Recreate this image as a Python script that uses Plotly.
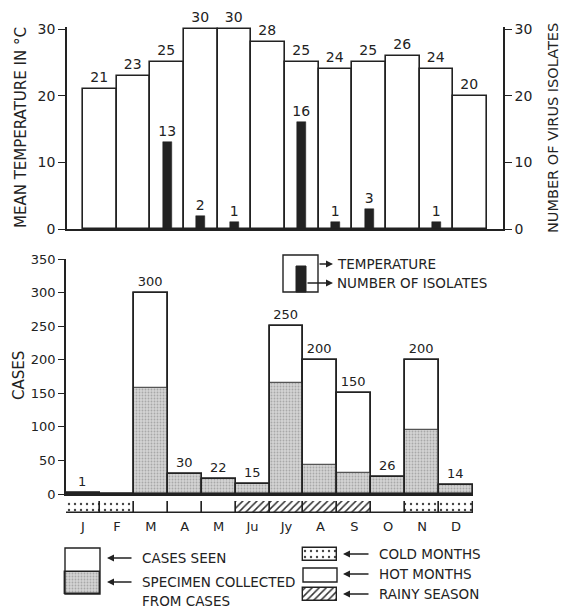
import plotly.graph_objects as go

# ---------------- data ----------------
months = ["J", "F", "M", "A", "M", "Ju", "Jy", "A", "S", "O", "N", "D"]
temperature = [21, 23, 25, 30, 30, 28, 25, 24, 25, 26, 24, 20]
isolates = [0, 0, 13, 2, 1, 0, 16, 1, 3, 0, 1, 0]
cases_seen = [1, 0, 300, 30, 22, 15, 250, 200, 150, 26, 200, 14]
specimens = [1, 0, 158, 30, 22, 15, 166, 43, 32, 26, 95, 14]
season = ["cold", "cold", "hot", "hot", "hot", "rainy", "rainy", "rainy", "rainy", "hot", "cold", "cold"]
temp_ticks = [0, 10, 20, 30]
case_ticks = [0, 50, 100, 150, 200, 250, 300, 350]

# page is offset by the browser's 8px body margin; layout is designed in page pixels
PAGE_W, PAGE_H, OFF = 568, 609, 8
FW, FH = PAGE_W - OFF, PAGE_H - OFF
INK = "#222222"
FONT = "DejaVu Sans"
GRAY_BG = "#d4d4d4"
GRAY_FG = "#a8a8a8"

idx = list(range(len(months)))

def py(p):  # page pixel y -> paper fraction
    return 1 - (p - OFF) / FH

def px(p):
    return (p - OFF) / FW

season_pattern = {"cold": ".", "hot": "", "rainy": "/"}
DOTS = dict(shape=".", fgcolor="#444444", bgcolor="white", size=6, solidity=0.12)
HATCH = dict(shape="/", fgcolor="#333333", bgcolor="white", size=5, solidity=0.3)
STIPPLE = dict(shape=".", fgcolor=GRAY_FG, bgcolor=GRAY_BG, size=3, solidity=0.3)

fig = go.Figure()

# ---------- top: temperature + isolates ----------
fig.add_trace(go.Bar(
    x=idx, y=temperature, width=1.0, xaxis="x", yaxis="y",
    marker=dict(color="white", line=dict(color=INK, width=1.6)),
    text=[str(v) for v in temperature], textposition="outside",
    textfont=dict(family=FONT, size=14, color=INK),
    constraintext="none", cliponaxis=False, showlegend=False, hoverinfo="skip"))
fig.add_trace(go.Bar(
    x=idx, y=isolates, width=0.27, xaxis="x", yaxis="y2",
    marker=dict(color=INK, line=dict(color=INK, width=0.5)),
    text=[str(v) if v else "" for v in isolates], textposition="outside",
    textfont=dict(family=FONT, size=14, color=INK),
    constraintext="none", cliponaxis=False, showlegend=False, hoverinfo="skip"))

# ---------- bottom: cases ----------
fig.add_trace(go.Bar(
    x=idx, y=cases_seen, width=1.0, xaxis="x2", yaxis="y3",
    marker=dict(color="white", line=dict(color=INK, width=1.6)),
    text=[str(v) if v else "" for v in cases_seen], textposition="outside",
    textfont=dict(family=FONT, size=13, color=INK),
    constraintext="none", cliponaxis=False, showlegend=False, hoverinfo="skip"))
fig.add_trace(go.Bar(
    x=idx, y=specimens, width=1.0, xaxis="x2", yaxis="y3",
    marker=dict(color=GRAY_BG, line=dict(color="#555555", width=1.2), pattern=STIPPLE),
    showlegend=False, hoverinfo="skip"))
fig.add_trace(go.Bar(
    x=idx, y=cases_seen, width=1.0, xaxis="x2", yaxis="y3",
    marker=dict(color="rgba(0,0,0,0)", line=dict(color=INK, width=1.6)),
    showlegend=False, hoverinfo="skip"))

# ---------- season strip ----------
fig.add_trace(go.Bar(
    x=idx, y=[1] * len(idx), width=1.0, xaxis="x3", yaxis="y4",
    marker=dict(color="white", line=dict(color=INK, width=1.4),
                pattern=dict(shape=[season_pattern[s] for s in season],
                             fgcolor=["#444444" if s == "cold" else "#333333" for s in season],
                             bgcolor="white",
                             size=[6 if s == "cold" else 5 for s in season],
                             solidity=[0.12 if s == "cold" else 0.3 for s in season])),
    showlegend=False, hoverinfo="skip"))

# ---------- legend swatches (page-pixel overlay axes) ----------
def swatch(xc, w, top, h, pattern, color="white"):
    fig.add_trace(go.Bar(
        x=[xc], y=[h], base=[top], width=[w], xaxis="x4", yaxis="y5",
        marker=dict(color=color, line=dict(color=INK, width=1.4), pattern=pattern),
        showlegend=False, hoverinfo="skip"))

swatch(320, 34, 548, 13, DOTS)
swatch(320, 34, 588, 13, HATCH)
swatch(82.5, 35, 572, 22, STIPPLE, GRAY_BG)

shapes = [
    dict(type="rect", xref="x4", yref="y5", x0=303, x1=337, y0=568, y1=582,
         line=dict(color=INK, width=1.4), fillcolor="white"),
    dict(type="rect", xref="x4", yref="y5", x0=65, x1=100, y0=548, y1=594,
         line=dict(color=INK, width=1.4), fillcolor="rgba(0,0,0,0)"),
    dict(type="rect", xref="x4", yref="y5", x0=283, x1=318, y0=255, y1=292,
         line=dict(color=INK, width=1.4), fillcolor="white"),
    dict(type="rect", xref="x4", yref="y5", x0=296, x1=306, y0=266, y1=292,
         line=dict(color=INK, width=1), fillcolor=INK),
]

annotations = []

def label(x, y, text, size=13.5, angle=0):
    annotations.append(dict(xref="x4", yref="y5", x=x, y=y, text=text, showarrow=False,
                            xanchor="left" if angle == 0 else "center", yanchor="middle",
                            textangle=angle, font=dict(family=FONT, size=size, color=INK)))

def arrow(x_head, y, tail_dx):
    annotations.append(dict(xref="x4", yref="y5", x=x_head, y=y, ax=tail_dx, ay=0,
                            axref="pixel", ayref="pixel", text="", showarrow=True,
                            arrowhead=2, arrowsize=1, arrowwidth=1.4, arrowcolor=INK))

label(21, 128, "MEAN TEMPERATURE IN °C", size=15, angle=-90)
label(553, 128, "NUMBER OF VIRUS ISOLATES", size=14.5, angle=-90)
label(19, 376, "CASES", size=15, angle=-90)

arrow(333, 264, -15)
arrow(333, 283, -27)
label(335, 264, "TEMPERATURE")
label(335, 283, "NUMBER OF ISOLATES")

arrow(107, 558, 26)
arrow(107, 582, 26)
label(140, 558, "CASES SEEN")
label(140, 582, "SPECIMEN COLLECTED")
label(140, 601, "FROM CASES")
arrow(343, 554, 27)
arrow(343, 574, 27)
arrow(343, 594, 27)
label(377, 554, "COLD MONTHS")
label(377, 574, "HOT MONTHS")
label(377, 594, "RAINY SEASON")

hidden = dict(visible=False, showgrid=False, zeroline=False, fixedrange=True, automargin=False)
common = dict(showgrid=False, zeroline=False, automargin=False)

TOP_EXTRA = 0.3  # small headroom so the 30-degree bar tops are not clipped
top_px = 29 - TOP_EXTRA * 200 / 30
fig.update_layout(
    template="none",
    width=FW, height=FH, autosize=False,
    margin=dict(l=0, r=0, t=0, b=0, pad=0, autoexpand=False),
    paper_bgcolor="white", plot_bgcolor="rgba(0,0,0,0)",
    barmode="overlay", bargap=0,
    font=dict(family=FONT, color=INK),
    xaxis=dict(domain=[px(67), px(503)], range=[-0.975, 11.975], anchor="y",
               showline=True, linecolor=INK, linewidth=1.6, showticklabels=False,
               ticks="", **common),
    yaxis=dict(domain=[py(229), py(top_px)], range=[0, 30 + TOP_EXTRA], anchor="x",
               tickvals=temp_ticks, ticks="outside", ticklen=7, tickwidth=1.4, tickcolor=INK,
               showline=True, linecolor=INK, linewidth=1.6,
               tickfont=dict(family=FONT, size=14, color=INK), **common),
    yaxis2=dict(overlaying="y", side="right", range=[0, 30 + TOP_EXTRA], anchor="x",
                tickvals=temp_ticks, ticks="outside", ticklen=7, tickwidth=1.4, tickcolor=INK,
                showline=True, linecolor=INK, linewidth=1.6,
                tickfont=dict(family=FONT, size=14, color=INK), **common),
    xaxis2=dict(domain=[px(66), px(473)], range=[-0.5, 11.5], anchor="y3",
                showline=True, linecolor=INK, linewidth=1.6, showticklabels=False,
                ticks="", **common),
    yaxis3=dict(domain=[py(494), py(259)], range=[0, 350], anchor="x2",
                tickvals=case_ticks, ticks="outside", ticklen=6, tickwidth=1.4, tickcolor=INK,
                showline=True, linecolor=INK, linewidth=1.6,
                tickfont=dict(family=FONT, size=13, color=INK), **common),
    xaxis3=dict(domain=[px(66), px(473)], range=[-0.5, 11.5], anchor="y4",
                tickvals=idx, ticktext=months, ticks="", showline=False, ticklabelstandoff=4,
                tickfont=dict(family=FONT, size=13, color=INK), **common),
    yaxis4=dict(domain=[py(513), py(501)], range=[0, 1], anchor="x3", **hidden),
    xaxis4=dict(domain=[0, 1], range=[OFF, PAGE_W], anchor="y5", **hidden),
    yaxis5=dict(domain=[0, 1], range=[PAGE_H, OFF], anchor="x4", **hidden),
    shapes=shapes,
    annotations=annotations,
)

fig.write_html("out.html")
